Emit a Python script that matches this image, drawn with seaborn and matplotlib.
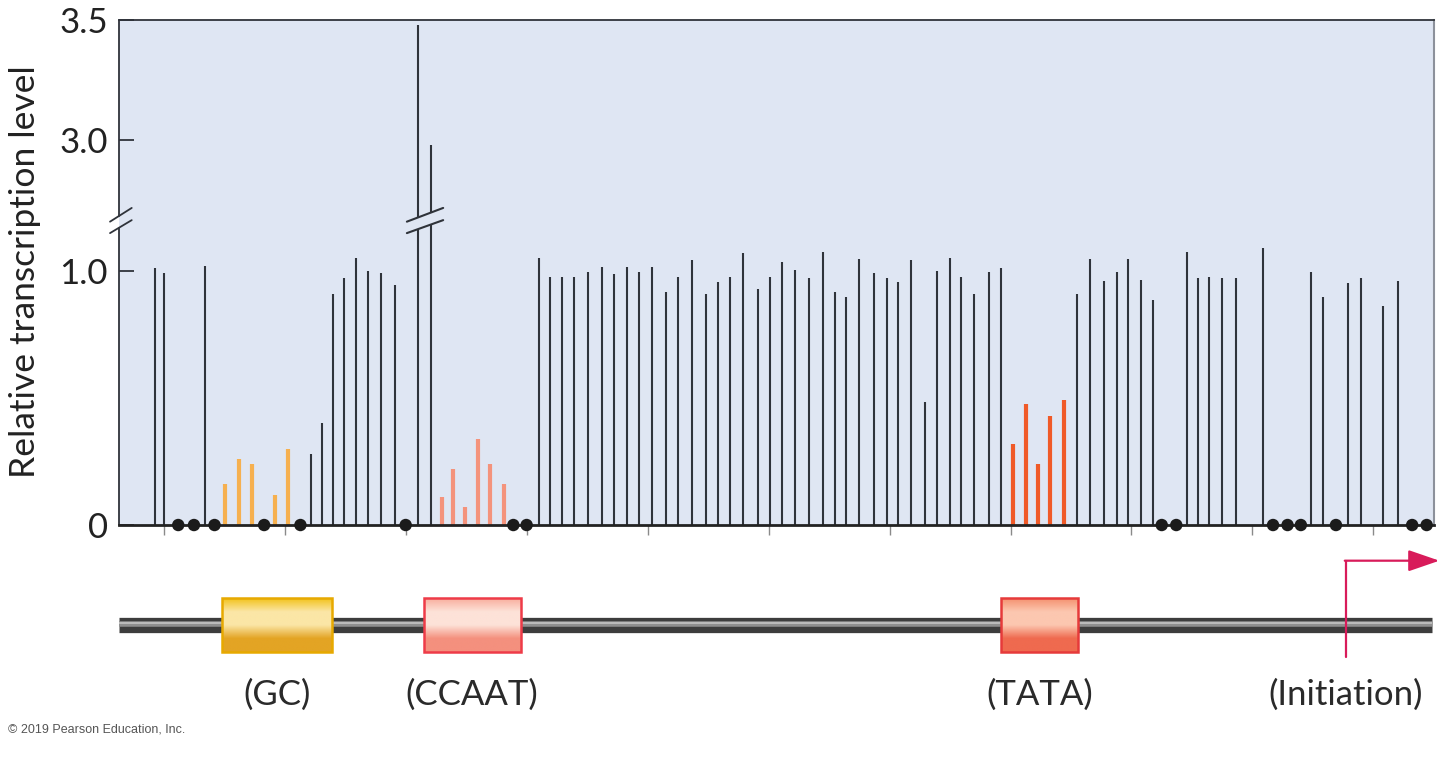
"""Linker-scanning mutants of a eukaryotic promoter: relative transcription level."""

import matplotlib.pyplot as plt
import numpy as np
import pandas as pd
import seaborn as sns
from matplotlib.colors import LinearSegmentedColormap
from matplotlib.patches import Polygon, Rectangle
from matplotlib.ticker import NullLocator
import matplotlib.transforms as mtransforms

# ---- data (position relative to the start site, transcription level) ----
black_pos = [-100.7, -100.0, -96.6, -87.8, -86.9, -86.0, -85.1, -84.1, -83.1, -82.0,
             -80.9, -79.0, -77.9, -69.0, -68.1, -67.1, -66.1, -64.9, -63.8, -62.8,
             -61.7, -60.7, -59.6, -58.5, -57.5, -56.3, -55.2, -54.2, -53.2, -52.1,
             -50.9, -49.9, -48.9, -47.8, -46.7, -45.5, -44.5, -43.6, -42.5, -41.3,
             -40.2, -39.3, -38.2, -37.1, -36.1, -35.0, -34.1, -33.0, -31.8, -30.8,
             -24.5, -23.4, -22.3, -21.2, -20.3, -19.2, -18.2, -15.4, -14.5, -13.6,
             -12.5, -11.4, -9.1, -5.2, -4.2, -2.1, -1.0, 0.8, 2.0]
black_level = [1.01, 0.99, 1.02, 0.28, 0.40, 0.91, 0.97, 1.05, 1.00, 0.99,
               0.945, 3.48, 2.98, 1.05, 0.976, 0.975, 0.975, 0.996, 1.016, 0.987,
               1.016, 0.996, 1.016, 0.915, 0.975, 1.043, 0.91, 0.954, 0.975, 1.068,
               0.93, 0.975, 1.033, 1.004, 0.97, 1.075, 0.915, 0.895, 1.048, 0.99,
               0.97, 0.954, 1.043, 0.484, 1.0, 1.05, 0.976, 0.91, 0.996, 1.01,
               0.91, 1.048, 0.96, 0.996, 1.048, 0.965, 0.886, 1.075, 0.97, 0.976,
               0.97, 0.97, 1.09, 0.996, 0.895, 0.95, 0.97, 0.863, 0.96]
gc_pos = [-94.9, -93.8, -92.7, -90.8, -89.7]
gc_level = [0.16, 0.26, 0.24, 0.12, 0.30]
ccaat_pos = [-77.0, -76.1, -75.1, -74.0, -73.0, -71.9]
ccaat_level = [0.11, 0.22, 0.07, 0.34, 0.24, 0.16]
tata_pos = [-29.8, -28.7, -27.7, -26.7, -25.6]
tata_level = [0.32, 0.477, 0.24, 0.43, 0.49]
nodata_pos = [-98.8, -97.5, -95.8, -91.7, -88.7, -80.0, -71.1, -70.0,
              -17.5, -16.3, -8.3, -7.1, -6.0, -3.1, 3.2, 4.4]

elements = ["GC", "CCAAT", "TATA"]
element_span = {"GC": (-95.2, -86.1), "CCAAT": (-78.5, -70.5), "TATA": (-30.8, -24.4)}
initiation_pos = -2.3

y_ticks = [0, 1.0, 3.0, 3.5]
y_ticklabels = ["0", "1.0", "3.0", "3.5"]
x_ticks = list(range(-100, 1, 10))

# ---- style ----
BG = "#dfe6f3"
INK = "#2f333a"
BAR_COLORS = {"other": INK, "GC": "#f6b04f", "CCAAT": "#f4937c", "TATA": "#f05a28"}
BOX_STYLE = {
    "GC": ("#f2c21a", "#fbe6a6", "#e3a424", "#e7a900"),
    "CCAAT": ("#f8ad9c", "#fde2d8", "#f4907e", "#ee3b48"),
    "TATA": ("#f4906e", "#fcc7b0", "#ef6a4f", "#e63a3a"),
}

sns.set_theme(style="white")
plt.rcParams["font.family"] = ["Lato", "DejaVu Sans"]

# broken y axis: linear up to 1.25, squeezed gap, then linear again from 2.75
LOW, HIGH, HIGH_D, UPPER_SLOPE = 1.25, 2.75, 1.278, 0.944
MID_SLOPE = (HIGH_D - LOW) / (HIGH - LOW)


def forward(v):
    v = np.asarray(v, dtype=float)
    return np.where(v <= LOW, v,
                    np.where(v <= HIGH, LOW + (v - LOW) * MID_SLOPE,
                             HIGH_D + (v - HIGH) * UPPER_SLOPE))


def inverse(d):
    d = np.asarray(d, dtype=float)
    return np.where(d <= LOW, d,
                    np.where(d <= HIGH_D, LOW + (d - LOW) / MID_SLOPE,
                             HIGH + (d - HIGH_D) / UPPER_SLOPE))


df = pd.concat([
    pd.DataFrame({"pos": black_pos, "level": black_level, "element": "other"}),
    pd.DataFrame({"pos": gc_pos, "level": gc_level, "element": "GC"}),
    pd.DataFrame({"pos": ccaat_pos, "level": ccaat_level, "element": "CCAAT"}),
    pd.DataFrame({"pos": tata_pos, "level": tata_level, "element": "TATA"}),
], ignore_index=True)
nodata = pd.DataFrame({"pos": nodata_pos, "level": 0.0})

fig = plt.figure(figsize=(14.49, 7.64), dpi=100)
ax = fig.add_axes([0.0821, 0.3128, 0.9075, 0.6610])
ax.set_facecolor(BG)
ax.set_yscale("function", functions=(forward, inverse))
ax.set_xlim(-103.7, 5.0)
ax.set_ylim(0, 3.5)

for element, group in df.groupby("element"):
    ax.vlines(group["pos"], 0, group["level"], color=BAR_COLORS[element],
              lw=1.5 if element == "other" else 3.0, zorder=3)

sns.scatterplot(data=nodata, x="pos", y="level", ax=ax, color="#1b1b1b", s=80,
                edgecolor="none", zorder=5, clip_on=False, legend=False)

# break symbol across the two very tall bars
tall = df[df["level"] > 2].sort_values("pos")["pos"].tolist()
bx0, bx1 = tall[0] - 0.9, tall[-1] + 1.0
upper = (1.193, 1.247)
lower = (1.148, 1.199)
ax.add_patch(Polygon([(bx0, upper[0]), (bx1, upper[1]), (bx1, lower[1]), (bx0, lower[0])],
                     closed=True, facecolor=BG, edgecolor="none", zorder=4))
for y0, y1 in (upper, lower):
    ax.plot([bx0, bx1], [y0, y1], color=INK, lw=1.5, zorder=5, clip_on=False)

# left spine with its own break
blend = mtransforms.blended_transform_factory(ax.transAxes, ax.transData)
ax.spines["left"].set_visible(False)
ax.plot([0, 0], [0, 1.169], color=INK, lw=1.3, transform=blend, clip_on=False)
ax.plot([0, 0], [1.215, 3.5], color=INK, lw=1.3, transform=blend, clip_on=False)
for y0, y1 in (upper, lower):
    ax.plot([-0.0068, 0.0097], [y0, y1], color=INK, lw=1.3, transform=blend, clip_on=False)

ax.spines["top"].set_color(INK)
ax.spines["top"].set_linewidth(1.3)
ax.spines["right"].set_color("#8c919b")
ax.spines["right"].set_linewidth(1.5)
ax.spines["bottom"].set_color("#222222")
ax.spines["bottom"].set_linewidth(2.0)
ax.spines["bottom"].set_zorder(4)

ax.set_yticks(y_ticks, y_ticklabels)
ax.yaxis.set_minor_locator(NullLocator())
ax.tick_params(axis="y", direction="in", length=11, width=1.3, color=INK,
               labelsize=25, labelcolor="#222222", pad=8, left=True)
ax.set_xticks(x_ticks)
ax.tick_params(axis="x", direction="out", length=7, width=1.0, color="#8a8a8a",
               labelbottom=False, bottom=True)
ax.set_xlabel("")
ax.set_ylabel("")

fig.text(0.01725, 0.644, "Relative transcription level", rotation=90,
         ha="center", va="center", fontsize=25.5, color="#222222")

# ---- promoter map below the chart ----
ax2 = fig.add_axes([0.0821, 0.0576, 0.9075, 0.2356])
ax2.axis("off")
line_y = 0.528
ax2.plot([-103.7, 4.8], [line_y, line_y], color="#3d3d3d", lw=11,
         solid_capstyle="butt", zorder=1)
ax2.plot([-103.7, 4.8], [line_y + 0.006, line_y + 0.006], color="#8f8f8f", lw=4,
         solid_capstyle="butt", zorder=1)
ax2.plot([-103.7, 4.8], [line_y + 0.012, line_y + 0.012], color="#c4c4c4", lw=1.2,
         solid_capstyle="butt", zorder=1)

box_y0, box_y1 = 0.378, 0.678
for element in elements:
    x0, x1 = element_span[element]
    top, mid, bottom, edge = BOX_STYLE[element]
    cmap = LinearSegmentedColormap.from_list(element, [top, mid, mid, bottom, bottom],
                                             N=256)
    grad = np.linspace(0, 1, 128).reshape(-1, 1)
    ax2.imshow(grad, cmap=cmap, extent=(x0, x1, box_y0, box_y1), aspect="auto",
               zorder=2, interpolation="bilinear")
    ax2.add_patch(Rectangle((x0, box_y0), x1 - x0, box_y1 - box_y0, fill=False,
                            edgecolor=edge, lw=1.8, zorder=3))
    ax2.text((x0 + x1) / 2, 0.139, f"({element})", ha="center", va="center",
             fontsize=25, color="#2a2a2a")

arrow_color = "#d81b5a"
ax2.plot([initiation_pos, initiation_pos], [0.352, 0.885], color=arrow_color, lw=1.6,
         zorder=4, clip_on=False)
ax2.annotate("", xy=(5.45, 0.885), xytext=(initiation_pos - 0.07, 0.885),
             arrowprops=dict(arrowstyle="-|>,head_length=1.6,head_width=0.55",
                             color=arrow_color, lw=1.6, shrinkA=0, shrinkB=0),
             annotation_clip=False, zorder=4)
ax2.text(initiation_pos, 0.139, "(Initiation)", ha="center", va="center",
         fontsize=25, color="#2a2a2a")
ax2.set_xlim(-103.7, 5.0)
ax2.set_ylim(0, 1)

fig.text(0.0055, 0.0458, "\u00a9 2019 Pearson Education, Inc.", fontsize=9,
         color="#555555", family=["Liberation Sans", "DejaVu Sans"], va="center")

fig.savefig("out.png", dpi=100)
